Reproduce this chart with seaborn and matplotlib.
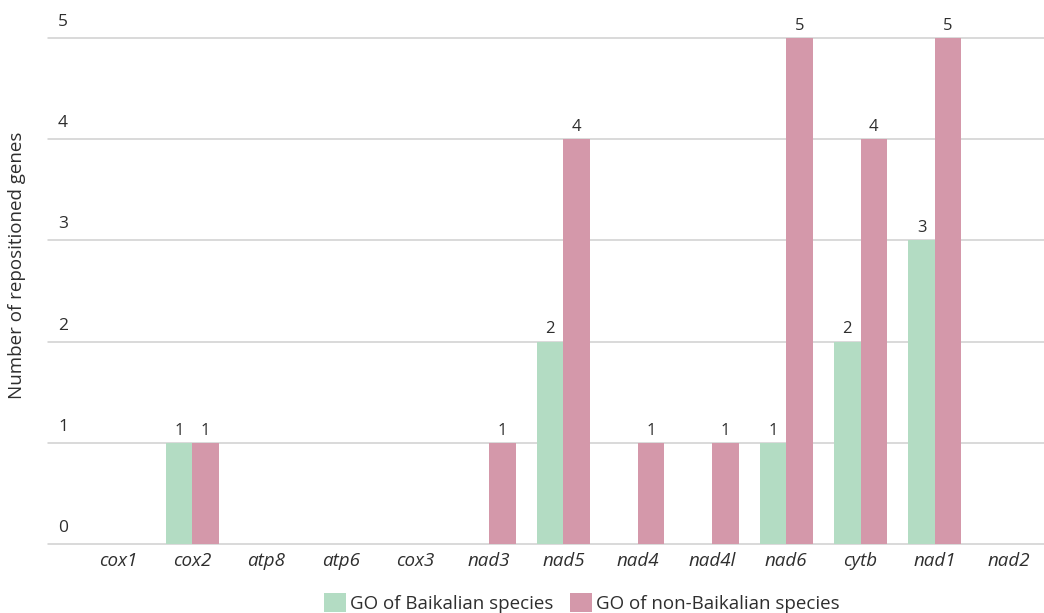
import matplotlib
matplotlib.use("Agg")
import matplotlib.pyplot as plt
import matplotlib.transforms as mtransforms
from matplotlib.patches import Patch
import seaborn as sns
import pandas as pd

genes = ["cox1", "cox2", "atp8", "atp6", "cox3", "nad3", "nad5", "nad4",
         "nad4l", "nad6", "cytb", "nad1", "nad2"]
baikalian = [0, 1, 0, 0, 0, 0, 2, 0, 0, 1, 2, 3, 0]
non_baikalian = [0, 1, 0, 0, 0, 1, 4, 1, 1, 5, 4, 5, 0]
series_names = ["GO of Baikalian species", "GO of non-Baikalian species"]
y_ticks = [0, 1, 2, 3, 4, 5]
y_title = "Number of repositioned genes"

green = "#b3dcc3"
pink = "#d498aa"
text_col = "#2e2e2e"

df = pd.DataFrame({
    "gene": genes * 2,
    "count": baikalian + non_baikalian,
    "group": [series_names[0]] * len(genes) + [series_names[1]] * len(genes),
})

sns.set_theme(style="white")
plt.rcParams["font.family"] = ["Open Sans", "DejaVu Sans"]

fig = plt.figure(figsize=(10.44, 6.13), dpi=100)
ax = fig.add_axes([48 / 1044, 69 / 613, 996 / 1044, 506 / 613])

sns.barplot(data=df, x="gene", y="count", hue="group", order=genes,
            hue_order=series_names, palette=[green, pink], saturation=1,
            width=0.714, gap=0, dodge=True, legend=False, ax=ax, zorder=3,
            linewidth=0, edgecolor="none")

ax.set_ylim(0, 5)
ax.set_xlim(-0.94, 12.47)
for s in ax.spines.values():
    s.set_visible(False)
ax.set_yticks(y_ticks)
ax.set_yticklabels([])
ax.tick_params(axis="y", length=0)
ax.grid(False)
for v in y_ticks:
    ax.axhline(v, color="#cfcfcf", linewidth=1.1, zorder=0, clip_on=False)

# y tick labels above gridlines
base = mtransforms.blended_transform_factory(ax.transAxes, ax.transData)
tr = mtransforms.offset_copy(base, fig=fig, x=0, y=16, units="dots")
for v in y_ticks:
    ax.text(0.010, v, str(v), transform=tr, ha="left", va="center",
            fontsize=12.5, color=text_col)

ax.set_xlabel("")
ax.set_ylabel("")
ax.tick_params(axis="x", length=0, pad=6)
ax.set_xticks(range(len(genes)))
ax.set_xticklabels(genes, fontstyle="italic", fontsize=13.5, color=text_col)

for cont in ax.containers:
    labels = [str(int(b.get_height())) if b.get_height() > 0 else "" for b in cont]
    ax.bar_label(cont, labels=labels, padding=3, fontsize=12, color=text_col,
                 clip_on=False)

fig.text(17 / 1044, 1 - 265 / 613, y_title, rotation=90, ha="center",
         va="center", fontsize=13.5, color=text_col)

handles = [Patch(facecolor=green, edgecolor="none"),
           Patch(facecolor=pink, edgecolor="none")]
fig.legend(handles, series_names, loc="center",
           bbox_to_anchor=(582 / 1044, 1 - 603 / 613), ncol=2, frameon=False,
           fontsize=13.5, handlelength=1.17, handleheight=1.17, handletextpad=0.2,
           columnspacing=0.9, labelcolor=text_col, borderpad=0)

fig.savefig("out.png", dpi=100)
